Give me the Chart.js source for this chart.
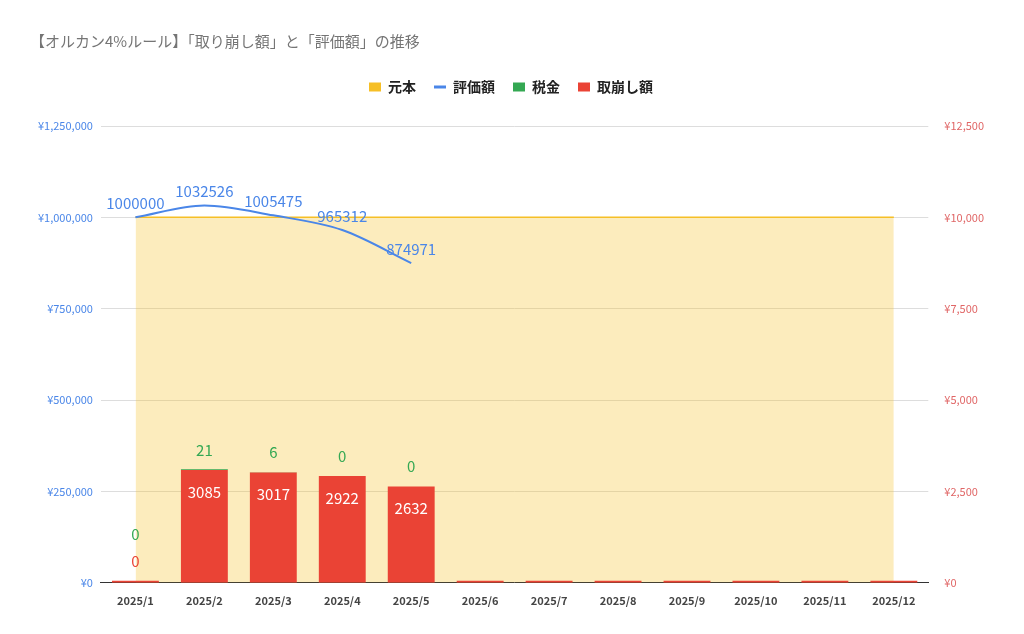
<!DOCTYPE html>
<html><head><meta charset="utf-8">
<script src="https://cdn.jsdelivr.net/npm/chart.js@4"></script>
<style>html,body{margin:0;background:#fff}#wrap{width:1024px;height:634px}</style>
</head><body><div id="wrap"><canvas id="c"></canvas></div>
<script>
const months = ['2025/1','2025/2','2025/3','2025/4','2025/5','2025/6','2025/7','2025/8','2025/9','2025/10','2025/11','2025/12'];
const principal = [1000000,1000000,1000000,1000000,1000000,1000000,1000000,1000000,1000000,1000000,1000000,1000000];
const valuation = [1000000,1032526,1005475,965312,874971];
const tax = [0,21,6,0,0,0,0,0,0,0,0,0];
const withdrawal = [0,3085,3017,2922,2632,0,0,0,0,0,0,0];
const labelCount = 5;
const legendOrder = ['元本','評価額','税金','取崩し額'];

const FONT = "'Noto Sans CJK JP', Roboto, sans-serif";

// draws the value labels next to each mark
const valueLabels = {
  id: 'valueLabels',
  afterDatasetsDraw(chart) {
    const ctx = chart.ctx;
    const redMeta = chart.getDatasetMeta(3);
    ctx.save();
    ctx.textAlign = 'center';
    ctx.font = '15px ' + FONT;
    chart.data.datasets.forEach((ds, di) => {
      const meta = chart.getDatasetMeta(di);
      if (ds.label === '元本') return;
      meta.data.forEach((el, i) => {
        if (i >= labelCount) return;
        const v = ds.data[i];
        const redY = redMeta.data[i].y;
        if (ds.label === '評価額') {
          ctx.fillStyle = '#4a86e8';
          ctx.fillText(v, el.x, el.y - 14);
        } else if (ds.label === '取崩し額') {
          if (v > 0) {
            ctx.fillStyle = '#fff';
            ctx.fillText(v, el.x, el.y + 22);
          } else {
            ctx.fillStyle = '#ea4335';
            ctx.fillText(v, el.x, el.y - 20);
          }
        } else if (ds.label === '税金') {
          ctx.fillStyle = '#34a853';
          ctx.fillText(v, el.x, redY - (withdrawal[i] > 0 ? 20 : 47));
        }
      });
    });
    ctx.restore();
  }
};

new Chart(document.getElementById('c'), {
  type: 'bar',
  data: {
    labels: months,
    datasets: [
      { type: 'line', label: '元本', data: principal, yAxisID: 'y', borderColor: '#f6bf26', backgroundColor: '#f6bf26',
        fill: { target: 'origin', above: 'rgba(246,191,38,0.3)' }, borderWidth: 1.5, pointRadius: 0, order: 4 },
      { type: 'line', label: '評価額', data: valuation, yAxisID: 'y', borderColor: '#4a86e8', backgroundColor: '#4a86e8',
        borderWidth: 2, pointRadius: 0, tension: 0.4, cubicInterpolationMode: 'monotone', order: 1 },
      { label: '税金', data: tax, yAxisID: 'y1', backgroundColor: '#34a853', stack: 's', categoryPercentage: 0.68, barPercentage: 1, order: 3 },
      { label: '取崩し額', data: withdrawal, yAxisID: 'y1', backgroundColor: '#ea4335', stack: 's', categoryPercentage: 0.68, barPercentage: 1, minBarLength: 2, order: 2 }
    ]
  },
  options: {
    responsive: true,
    maintainAspectRatio: false,
    animation: false,
    layout: { padding: { left: 30, right: 32, top: 12, bottom: 24 } },
    plugins: {
      title: { display: true, text: '【オルカン4%ルール】「取り崩し額」と「評価額」の推移', align: 'start',
        color: '#757575', font: { size: 15, family: FONT, weight: 'normal' }, padding: { top: 20, bottom: 12 } },
      legend: {
        labels: { usePointStyle: true, pointStyleWidth: 12, boxHeight: 9, color: '#222', padding: 18,
          font: { size: 14, family: FONT, weight: 'bold' },
          generateLabels(chart) {
            const items = Chart.defaults.plugins.legend.labels.generateLabels(chart);
            items.forEach(it => { it.pointStyle = it.text === '評価額' ? 'line' : 'rect'; it.lineWidth = it.text === '評価額' ? 3 : 0; it.strokeStyle = it.fillStyle; });
            items.sort((a, b) => legendOrder.indexOf(a.text) - legendOrder.indexOf(b.text));
            return items;
          } }
      },
      tooltip: { enabled: false }
    },
    scales: {
      x: { stacked: true, grid: { display: false }, border: { color: '#333' },
        ticks: { color: '#444', font: { size: 11, weight: 'bold', family: FONT } } },
      y: { position: 'left', min: 0, max: 1250000, border: { display: false },
        afterFit(s) { s.paddingTop = 0; },
        ticks: { stepSize: 250000, color: '#4a86e8', font: { size: 11, family: FONT }, padding: 8,
          callback: v => '¥' + v.toLocaleString('en-US') },
        grid: { color: '#dddddd', drawTicks: false } },
      y1: { position: 'right', stacked: true, min: 0, max: 12500, border: { display: false },
        ticks: { stepSize: 2500, color: '#e06666', font: { size: 11, family: FONT }, padding: 8,
          callback: v => '¥' + v.toLocaleString('en-US') },
        grid: { display: false } }
    }
  },
  plugins: [valueLabels, {
    id: 'legendGap',
    beforeInit(chart) {
      const orig = chart.legend.fit;
      chart.legend.fit = function () { orig.bind(chart.legend)(); this.height += 22; };
    }
  }]
});
</script></body></html>
